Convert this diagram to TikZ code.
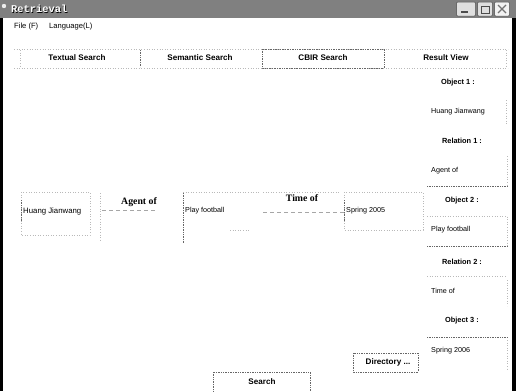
\documentclass[tikz,border=0pt]{standalone}
\usepackage{fontspec}
\setmainfont{Liberation Serif}
\newfontfamily\guisans{Liberation Sans}
\newfontfamily\titlemono{Liberation Mono}
\begin{document}
\begin{tikzpicture}[x=1pt,y=-1pt,
  menutext/.style={font=\guisans\fontsize{7.6}{8}\selectfont, inner sep=0, anchor=west},
  tabtext/.style={font=\guisans\bfseries\fontsize{8.1}{9}\selectfont, inner sep=0},
  fieldtext/.style={font=\guisans\fontsize{7.2}{8}\selectfont, inner sep=0, anchor=west},
  panellabel/.style={font=\guisans\bfseries\fontsize{7.4}{8}\selectfont, inner sep=0},
  reltext/.style={font=\bfseries\fontsize{9.8}{10}\selectfont, inner sep=0},
  faint/.style={gray!55, dotted, line width=0.6pt},
  edge/.style={gray!80!black, densely dotted, line width=0.7pt},
  relline/.style={gray!70, dash pattern=on 4pt off 3pt, line width=0.6pt},
  winbtn/.style={draw=gray!60!black, fill=gray!25, line width=0.5pt, rounded corners=1pt}]
\useasboundingbox (0,0) rectangle (516,391);
\fill[white] (0,0) rectangle (516,391);

% title bar
\fill[black!50] (0,0) rectangle (516,18);
\fill[white!85!gray] (4,6) circle (2.2pt);
\node[font=\titlemono\bfseries\fontsize{10.4}{10}\selectfont, text=black, inner sep=0, anchor=west] at (11.7,9.7) {Retrieval};
\node[font=\titlemono\bfseries\fontsize{10.4}{10}\selectfont, text=white, inner sep=0, anchor=west] (title) at (11,9) {Retrieval};

% window buttons
\node[winbtn, minimum width=19pt, minimum height=14pt, inner sep=0] (bmin) at (466,9) {};
\draw[black!70, line width=1.2pt] ([xshift=-5pt,yshift=-3pt]bmin.center) -- ([xshift=2pt,yshift=-3pt]bmin.center);
\node[winbtn, minimum width=15pt, minimum height=14pt, inner sep=0] (bmax) at (485,9) {};
\draw[black!70, line width=1pt] ([xshift=-4pt,yshift=-4pt]bmax.center) rectangle ([xshift=4pt,yshift=3pt]bmax.center);
\node[winbtn, fill=gray!10, minimum width=15pt, minimum height=14pt, inner sep=0] (bclose) at (502,9) {};
\draw[black!55, line width=1.2pt] ([xshift=-4pt,yshift=-4pt]bclose.center) -- ([xshift=4pt,yshift=4pt]bclose.center)
  ([xshift=-4pt,yshift=4pt]bclose.center) -- ([xshift=4pt,yshift=-4pt]bclose.center);

% window frame
\fill[black] (0,18) rectangle (2.5,391);
\fill[black] (512,18) rectangle (516,391);

% menu bar
\node[menutext] (mfile) at (14,27) {File (F)};
\node[menutext] (mlang) at (49,27) {Language(L)};

% tab row
\draw[faint] (14,49) -- (508,49);
\draw[faint] (14,68) -- (508,68);
\draw[faint] (20,50) -- (20,67);
\draw[edge] (140,50) -- (140,67);
\draw[edge] (262,49) rectangle (384,68);
\draw[faint] (506,50) -- (506,67);
\node[tabtext] (tab1) at (77,58) {Textual Search};
\node[tabtext] (tab2) at (200,58) {Semantic Search};
\node[tabtext] (tab3) at (323,58) {CBIR Search};
\node[tabtext] (tab4) at (446,58) {Result View};

% query row: object fields and relation fields
\draw[faint] (21,192) rectangle (90,235);
\draw[edge] (21,200) -- (21,222);
\node[fieldtext, font=\guisans\fontsize{7.8}{8}\selectfont] (q1) at (23,211) {Huang Jianwang};

\draw[faint] (100,193) -- (100,242);
\node[reltext] (r1) at (139,202) {Agent of};
\coordinate (r1a) at (102,210);
\coordinate (r1b) at (157,210);
\draw[relline] (r1a) -- (r1b);

\draw[faint] (183,192) -- (260,192);
\draw[edge] (183,193) -- (183,243);
\draw[faint] (230,230) -- (250,230);
\node[fieldtext] (q2) at (185,211) {Play football};

\draw[faint] (263,192) -- (340,192);
\node[reltext] (r2) at (302,198) {Time of};
\coordinate (r2a) at (263,212);
\coordinate (r2b) at (344,212);
\draw[relline] (r2a) -- (r2b);

\draw[faint] (344,192) rectangle (423,230);
\draw[edge] (344,200) -- (344,222);
\node[fieldtext] (q3) at (346,211) {Spring 2005};

% result panel: labels, values and the partly visible field borders
\node[panellabel] (o1) at (458,83) {Object 1 :};
\node[fieldtext] (v1) at (431,112) {Huang Jianwang};
\draw[faint] (506,100) -- (506,125);
\node[panellabel] (l1) at (462,141) {Relation 1 :};
\node[fieldtext] (v2) at (431,171) {Agent of};
\draw[faint] (507,156) -- (507,186);
\draw[edge] (427,186) -- (507,186);
\node[panellabel] (o2) at (462,201) {Object 2 :};
\draw[faint] (427,216) -- (507,216) -- (507,246);
\node[fieldtext] (v3) at (431,230) {Play football};
\draw[edge] (427,246) -- (507,246);
\node[panellabel] (l2) at (462,262) {Relation 2 :};
\draw[faint] (427,276) -- (507,276);
\node[fieldtext] (v4) at (431,291) {Time of};
\draw[faint] (507,280) -- (507,306);
\node[panellabel] (o3) at (462,321) {Object 3 :};
\draw[edge] (427,337) -- (507,337);
\node[fieldtext] (v5) at (431,351) {Spring 2006};
\draw[faint] (507,340) -- (507,370);

% buttons
\draw[edge] (353,353) rectangle (418,372);
\node[tabtext] (bdir) at (388,362) {Directory ...};
\draw[edge] (213,372) rectangle (310,395);
\node[tabtext] (bsearch) at (262,382) {Search};
\end{tikzpicture}
\end{document}
